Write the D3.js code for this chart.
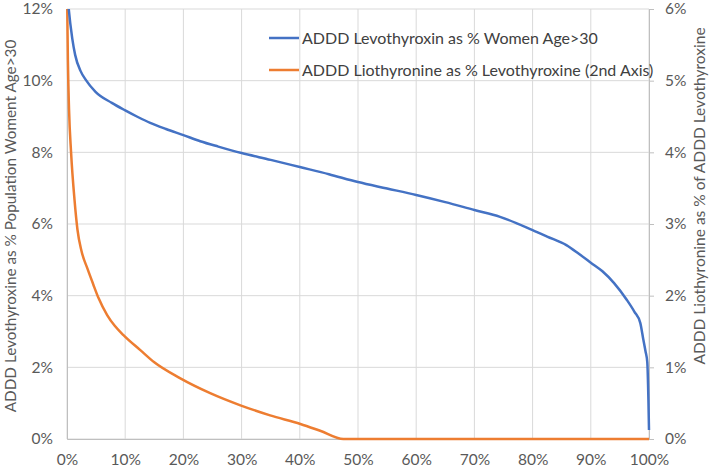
<!DOCTYPE html>
<html><head><meta charset="utf-8">
<script src="https://cdn.jsdelivr.net/npm/d3@7"></script>
<style>body{margin:0;background:#fff}svg{display:block}text{font-family:Lato,"Open Sans",sans-serif}</style>
</head><body>
<svg id="c" width="709" height="469"></svg>
<script>
// Data (x = % of practices, y = value in %)
const levoX = [0, 0.3, 0.9, 1.4, 2.3, 3.2, 4.9, 7.7, 10, 12, 14.3, 17, 20, 22.9, 26, 30, 35, 40, 45, 50, 55, 60, 65, 70, 74.4, 80, 82.5, 85.8, 88, 90, 92, 94, 96.2, 97.5, 98.5, 99, 99.4, 99.7, 99.9, 100];
const levoY = [12.6, 12.0, 11.18, 10.72, 10.28, 10.03, 9.69, 9.38, 9.17, 9.0, 8.82, 8.65, 8.48, 8.31, 8.16, 7.98, 7.79, 7.59, 7.39, 7.17, 6.99, 6.81, 6.61, 6.39, 6.2, 5.83, 5.65, 5.41, 5.16, 4.92, 4.68, 4.35, 3.88, 3.55, 3.24, 2.8, 2.45, 2.15, 1.09, 0.25];
const lioX = [0, 0.15, 0.35, 0.7, 1.3, 1.8, 2.5, 3.5, 4.5, 5.4, 6.9, 8.2, 9.7, 12.6, 15, 19.4, 24.6, 29.8, 34.9, 40.1, 43.5, 47.5, 100];
const lioY = [6.3, 5.3, 4.6, 4.0, 3.33, 2.92, 2.62, 2.38, 2.16, 1.97, 1.73, 1.58, 1.45, 1.24, 1.07, 0.85, 0.64, 0.47, 0.33, 0.21, 0.115, 0, 0];
const xTicks = [0,10,20,30,40,50,60,70,80,90,100];
const yLeftTicks = [0,2,4,6,8,10,12];
const yRightTicks = [0,1,2,3,4,5,6];
const seriesNames = ["ADDD Levothyroxin as % Women Age>30", "ADDD Liothyronine as % Levothyroxine (2nd Axis)"];
const leftTitle = "ADDD Levothyroxine as % Population Woment Age>30";
const rightTitle = "ADDD Liothyronine as % of ADDD Levothyroxine";
const colors = ["#4472C4", "#ED7D31"];

const svg = d3.select("#c");
const L = 67, R = 649, T = 9, B = 439;
const x = d3.scaleLinear().domain([0,100]).range([L,R]);
const yL = d3.scaleLinear().domain([0,12]).range([B,T]);
const yR = d3.scaleLinear().domain([0,6]).range([B,T]);
const grid = "#d9d9d9", txt = "#595959";

// grid
svg.append("g").selectAll("line").data(yLeftTicks).join("line")
  .attr("x1", L).attr("x2", R).attr("y1", d=>yL(d)).attr("y2", d=>yL(d)).attr("stroke", grid).attr("stroke-width",1);
svg.append("g").selectAll("line").data(xTicks).join("line")
  .attr("x1", d=>x(d)).attr("x2", d=>x(d)).attr("y1", T).attr("y2", B).attr("stroke", grid).attr("stroke-width",1);

// axes
const ax = svg.append("g").attr("transform",`translate(0,${B})`).call(d3.axisBottom(x).tickValues(xTicks).tickSize(0).tickPadding(15).tickFormat(d=>d+"%"));
const ayl = svg.append("g").attr("transform",`translate(${L},0)`).call(d3.axisLeft(yL).tickValues(yLeftTicks).tickSize(0).tickPadding(14).tickFormat(d=>d+"%"));
const ayr = svg.append("g").attr("transform",`translate(${R},0)`).call(d3.axisRight(yR).tickValues(yRightTicks).tickSize(5).tickPadding(11).tickFormat(d=>d+"%"));
[ax,ayl,ayr].forEach(g=>{
  g.select(".domain").attr("stroke","#bfbfbf");
  g.selectAll(".tick line").attr("stroke","#bfbfbf");
  g.selectAll("text").attr("fill",txt).style("font-size","15.5px").style("font-family","Lato, sans-serif");
});

// clip
svg.append("clipPath").attr("id","clip").append("rect").attr("x",L-3).attr("y",T).attr("width",R-L+6).attr("height",B-T+2);

const lineL = d3.line().x(d=>x(d[0])).y(d=>yL(d[1])).curve(d3.curveMonotoneX);
const lineR = d3.line().x(d=>x(d[0])).y(d=>yR(d[1])).curve(d3.curveMonotoneX);
const g = svg.append("g").attr("clip-path","url(#clip)");
g.append("path").datum(lioX.map((v,i)=>[v,lioY[i]])).attr("d", lineR).attr("fill","none").attr("stroke",colors[1]).attr("stroke-width",2.5).attr("stroke-linejoin","round");
g.append("path").datum(levoX.map((v,i)=>[v,levoY[i]])).attr("d", lineL).attr("fill","none").attr("stroke",colors[0]).attr("stroke-width",2.5).attr("stroke-linejoin","round");

// legend
const lg = svg.append("g");
seriesNames.forEach((n,i)=>{
  const yy = 38 + i*32;
  lg.append("line").attr("x1",269).attr("x2",299).attr("y1",yy).attr("y2",yy).attr("stroke",colors[i]).attr("stroke-width",2.5);
  lg.append("text").attr("x",302).attr("y",yy).attr("dy","0.35em").attr("fill","#404040").style("font-size","16px").text(n);
});

// axis titles
svg.append("text").attr("transform",`translate(16,226) rotate(-90)`).attr("text-anchor","middle").attr("fill",txt).style("font-size","15.3px").text(leftTitle);
svg.append("text").attr("transform",`translate(705,196) rotate(-90)`).attr("text-anchor","middle").attr("fill",txt).style("font-size","15.5px").text(rightTitle);
</script>
</body></html>
